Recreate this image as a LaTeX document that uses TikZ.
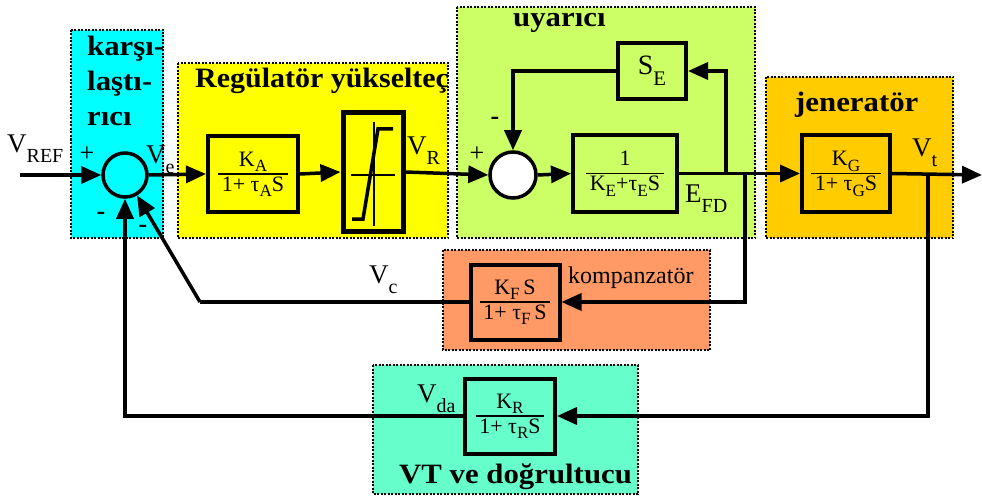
\documentclass[tikz,border=0pt]{standalone}
\usepackage{fontspec}
\setmainfont{Liberation Serif}
\usetikzlibrary{arrows.meta}
\definecolor{cmpc}{HTML}{00FFFF}
\definecolor{regc}{HTML}{FFFF00}
\definecolor{uyc}{HTML}{CCFF66}
\definecolor{genc}{HTML}{FFCC00}
\definecolor{komc}{HTML}{FF9966}
\definecolor{vtc}{HTML}{66FFCC}
\newcommand\sbl[1]{\raisebox{-0.38em}{\scalebox{0.74}{#1}}}
\newcommand\sbb[1]{\raisebox{-0.25em}{\scalebox{0.78}{#1}}}
\newcommand\widetxt[1]{\scalebox{1.1}[1]{#1}}
\newcommand\blkfrac[2]{{\setlength\arrayrulewidth{1.5pt}\renewcommand\arraystretch{0.95}\begin{tabular}{@{\,}c@{\,}}#1\\\hline #2\end{tabular}}}
\begin{document}
\begin{tikzpicture}[x=1pt,y=-1pt,
  sig/.style={line width=3.5pt},
  arr/.style={sig,-{Triangle[length=20pt,width=17pt]}},
  blk/.style={draw,line width=4pt,inner sep=0pt,font=\fontsize{22}{25}\selectfont},
  area/.style={draw,dash pattern=on 2pt off 1.5pt,line width=1.6pt},
  ttl/.style={font=\fontsize{28}{34}\selectfont\bfseries,anchor=base west,inner sep=0pt},
  lbl/.style={font=\fontsize{27}{30}\selectfont,anchor=base west,inner sep=0pt},
  sgn/.style={font=\fontsize{26}{26}\selectfont\bfseries,inner sep=0pt}
]
\useasboundingbox (0,0) rectangle (982,500);
\fill[white] (0,0) rectangle (982,500);
% areas
\draw[area,fill=cmpc] (71,30) rectangle (163,238);
\draw[area,fill=regc] (178,63) rectangle (448,238);
\draw[area,fill=uyc] (457,7) rectangle (755,238);
\draw[area,fill=genc] (766,77) rectangle (953,238);
\draw[area,fill=komc] (443,250) rectangle (710,350);
\draw[area,fill=vtc] (373,365) rectangle (638,494);
% titles
\node[ttl] (t1) at (87,56) {\widetxt{karşı-}};
\node[ttl] (t2) at (87,91) {\widetxt{laştı-}};
\node[ttl] (t3) at (87,126) {\widetxt{rıcı}};
\node[ttl] (treg) at (195,88) {\scalebox{1.07}[1]{Regülatör yükselteç}};
\node[ttl] (tuy) at (513,27) {\widetxt{uyarıcı}};
\node[ttl] (tgen) at (795,112) {\widetxt{jeneratör}};
\node[ttl] (tvt) at (399,483) {\widetxt{VT ve doğrultucu}};
% blocks
\node[draw,circle,line width=3.5pt,minimum size=44pt,inner sep=0pt] (sum1) at (125,175) {};
\node[blk,minimum width=90pt,minimum height=76pt] (ka) at (253,174) {\blkfrac{K\sbb{A}}{1+ τ\sbb{A}S}};
\node[draw,line width=5pt,minimum width=60pt,minimum height=119pt,inner sep=0pt] (sat) at (373,172) {};
\draw[line width=1.5pt] (351,175) -- (395,175);
\draw[line width=1.5pt] (374,122) -- (374,226);
\draw[line width=3.5pt] (352,219) -- (363,219) -- (378,129) -- (393,129);
\node[draw,circle,line width=3.5pt,minimum size=46pt,inner sep=0pt,fill=white] (sum2) at (513,175) {};
\node[blk,minimum width=104pt,minimum height=77pt] (ke) at (625,173.5) {\blkfrac{1}{K\sbb{E}+τ\sbb{E}S}};
\node[blk,minimum width=68pt,minimum height=56pt,font=\fontsize{28}{30}\selectfont] (se) at (652,71) {S\sbl{E}};
\node[blk,minimum width=88pt,minimum height=77pt] (kg) at (846,173.5) {\blkfrac{K\sbb{G}}{1+ τ\sbb{G}S}};
\node[blk,minimum width=89pt,minimum height=75pt] (kf) at (515,302) {\blkfrac{K\sbb{F}\,S}{1+ τ\sbb{F}\,S}};
\node[blk,minimum width=90pt,minimum height=75pt] (kr) at (510,416) {\blkfrac{K\sbb{R}}{1+ τ\sbb{R}S}};
% coordinates
\coordinate (in) at (20,175);
\coordinate (out) at (982,175);
\coordinate (j1) at (726,175);
\coordinate (j2) at (745,175);
\coordinate (j3) at (928,175);
\coordinate (c1) at (200,302);
% connectors
\draw[arr] (in) -- (sum1.west);
\draw[arr] (sum1.east) -- (ka.west);
\draw[arr] (ka.east) -- (sat.west);
\draw[arr] (sat.east) -- (sum2.west);
\draw[arr] (sum2.east) -- (ke.west);
\draw[arr] (ke.east) -- (kg.west);
\draw[arr] (kg.east) -- (out);
\draw[arr] (j1) |- (se.east);
\draw[arr] (se.west) -| (sum2.north);
\draw[arr] (j2) |- (kf.east);
\draw[sig] (kf.west) -- (c1);
\draw[arr] (c1) -- (sum1);
\draw[arr] (j3) |- (kr.east);
\draw[arr] (kr.west) -| (sum1.south);
% labels
\node[lbl] (lref) at (7,152) {V\sbl{REF}};
\node[sgn,font=\fontsize{26}{26}\selectfont] (p1) at (87,154) {+};
\node[lbl] (lve) at (146,163) {V\sbl{e}};
\node[sgn] (m1) at (101,216) {-};
\node[sgn] (m2) at (143,229) {-};
\node[lbl] (lvr) at (407,154) {V\sbl{R}};
\node[sgn,font=\fontsize{26}{26}\selectfont] (p2) at (477,154) {+};
\node[sgn] (m3) at (495,121) {-};
\node[lbl] (lefd) at (685,202) {E\sbl{FD}};
\node[lbl] (lvt) at (912,156) {V\sbl{t}};
\node[lbl] (lvc) at (369,283) {V\sbl{c}};
\node[lbl,font=\fontsize{24}{28}\selectfont] (lkomp) at (568,283) {kompanzatör};
\node[lbl] (lvda) at (417,402) {V\sbl{da}};
\end{tikzpicture}
\end{document}
